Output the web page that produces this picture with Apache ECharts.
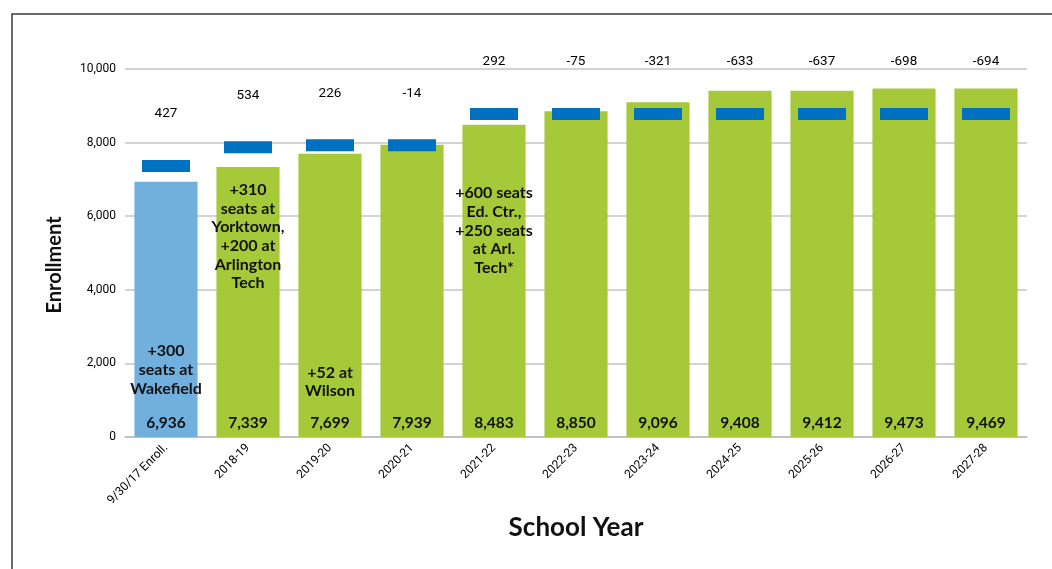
<!DOCTYPE html>
<html>
<head>
<meta charset="utf-8">
<title>Enrollment vs. Capacity by School Year</title>
<script src="https://cdn.jsdelivr.net/npm/echarts@6/dist/echarts.min.js"></script>
<style>
  html, body { margin: 0; padding: 0; background: #ffffff; }
  #chart { width: 1052px; height: 569px; }
</style>
</head>
<body>
<div id="chart"></div>
<script>
// School years shown on the category axis
const schoolYears = ['9/30/17 Enroll.', '2018-19', '2019-20', '2020-21', '2021-22', '2022-23',
                     '2023-24', '2024-25', '2025-26', '2026-27', '2027-28'];

// Actual (first) and projected enrollment
const enrollment = [6936, 7339, 7699, 7939, 8483, 8850, 9096, 9408, 9412, 9473, 9469];

// Seats available minus enrollment (printed above each capacity marker)
const seatGap = [427, 534, 226, -14, 292, -75, -321, -633, -637, -698, -694];

// Capacity additions noted inside the bars
const capacityNotes = [
  '+300\nseats at\nWakefield',
  '+310\nseats at\nYorktown,\n+200 at\nArlington\nTech',
  '+52 at\nWilson',
  '',
  '+600 seats\nEd. Ctr.,\n+250 seats\nat Arl.\nTech*',
  '', '', '', '', '', ''
];

// Value-axis ticks
const yTicks = [0, 2000, 4000, 6000, 8000, 10000];

// Vertical anchor (axis units) for each note's text block
const noteAnchor = [1820, 5450, 1500, 0, 5610, 0, 0, 0, 0, 0, 0];

const BAR_GREEN = '#a6c93a';
const BAR_BLUE = '#71b0dc';
const CAP_BLUE = '#0070c0';
const TICK_FONT = 'Roboto, "Noto Sans", sans-serif';
const BOLD = 'Lato, "Open Sans", sans-serif';

const capacity = enrollment.map((v, i) => v + seatGap[i]);
const fmt = v => v.toLocaleString('en-US');

const barData = enrollment.map((v, i) => ({
  value: v,
  itemStyle: { color: i === 0 ? BAR_BLUE : BAR_GREEN }
}));

const notePoints = capacityNotes
  .map((t, i) => ({ t, i }))
  .filter(d => d.t)
  .map(d => ({
    coord: [d.i, noteAnchor[d.i]],
    label: { formatter: d.t }
  }));

const chart = echarts.init(document.getElementById('chart'), null, { renderer: 'canvas' });

chart.setOption({
  animation: false,
  backgroundColor: '#ffffff',
  grid: { left: 125, right: 25, top: 69, bottom: 132, containLabel: false },
  xAxis: {
    type: 'category',
    data: schoolYears,
    axisLine: { show: true, lineStyle: { color: '#bdbdbd', width: 1.5 } },
    axisTick: { show: false },
    axisLabel: {
      rotate: 45,
      margin: 9,
      interval: 0,
      color: '#000',
      fontFamily: TICK_FONT,
      fontSize: 12
    }
  },
  yAxis: {
    type: 'value',
    min: 0,
    max: 10000,
    interval: 2000,
    axisLine: { show: false },
    axisTick: { show: false },
    splitLine: { lineStyle: { color: '#c4c4c4', width: 1.5 } },
    axisLabel: {
      margin: 9,
      color: '#000',
      fontFamily: TICK_FONT,
      fontSize: 12,
      formatter: v => yTicks.includes(v) ? fmt(v) : ''
    }
  },
  series: [
    {
      name: 'Enrollment',
      type: 'bar',
      data: barData,
      barWidth: '77%',
      z: 2,
      label: {
        show: true,
        position: 'insideBottom',
        distance: 6,
        formatter: p => fmt(p.value),
        color: '#111',
        fontFamily: BOLD,
        fontWeight: 'bold',
        fontSize: 15.5
      },
      markPoint: {
        symbol: 'circle',
        symbolSize: 0,
        silent: true,
        label: {
          show: true,
          position: 'inside',
          color: '#111',
          fontFamily: BOLD,
          fontWeight: 'bold',
          fontSize: 16,
          lineHeight: 18.7,
          align: 'center'
        },
        data: notePoints
      }
    },
    {
      name: 'Capacity',
      type: 'scatter',
      data: capacity,
      symbol: 'rect',
      symbolSize: [48, 12],
      itemStyle: { color: CAP_BLUE, opacity: 1 },
      z: 5,
      label: {
        show: true,
        position: 'top',
        distance: 39,
        formatter: p => String(seatGap[p.dataIndex]),
        color: '#000',
        fontFamily: TICK_FONT,
        fontSize: 13.5
      }
    }
  ],
  graphic: [
    {
      type: 'rect',
      silent: true,
      shape: { x: 12, y: 14, width: 1100, height: 700 },
      style: { fill: 'none', stroke: '#3a3a3a', lineWidth: 1.5 },
      z: 100
    },
    {
      type: 'text',
      x: 55,
      y: 265,
      rotation: Math.PI / 2,
      style: {
        text: 'Enrollment',
        align: 'center',
        verticalAlign: 'middle',
        fill: '#111',
        font: 'bold 20px ' + BOLD
      }
    },
    {
      type: 'text',
      x: 576,
      y: 528,
      style: {
        text: 'School Year',
        align: 'center',
        verticalAlign: 'middle',
        fill: '#111',
        font: 'bold 26px ' + BOLD
      }
    }
  ]
});
</script>
</body>
</html>
